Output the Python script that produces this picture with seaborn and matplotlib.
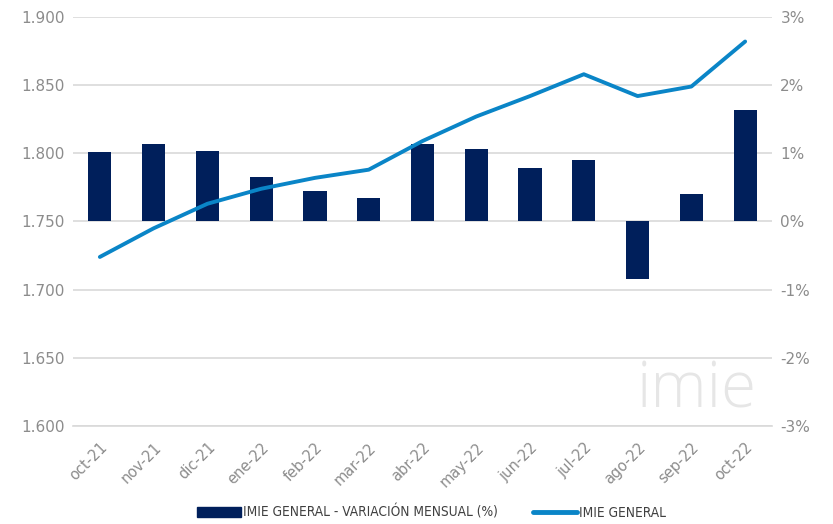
import numpy as np
import matplotlib
matplotlib.use("Agg")
import matplotlib.pyplot as plt
import seaborn as sns
from matplotlib.patches import Patch
from matplotlib.lines import Line2D
from matplotlib.ticker import FixedLocator, FuncFormatter

months = ["oct-21", "nov-21", "dic-21", "ene-22", "feb-22", "mar-22", "abr-22",
          "may-22", "jun-22", "jul-22", "ago-22", "sep-22", "oct-22"]
# variación mensual (%)
variacion = [1.02, 1.14, 1.04, 0.66, 0.44, 0.35, 1.13, 1.06, 0.78, 0.90, -0.85, 0.40, 1.63]
# IMIE general
imie = [1.724, 1.745, 1.763, 1.774, 1.782, 1.788, 1.809, 1.827, 1.842, 1.858, 1.842, 1.849, 1.882]

navy = "#001F5B"
blue = "#0A85C7"
grey_txt = "#8C8C8C"
grid_c = "#D9D9D9"

sns.set_style("white")
plt.rcParams["font.family"] = ["DejaVu Sans"]

fig = plt.figure(figsize=(8.33, 5.24), dpi=100)
ax = fig.add_axes([0.0876, 0.187, 0.8392, 0.7806])

# bars on primary axis (right-hand % scale), line on twin (left-hand scale)
sns.barplot(x=months, y=variacion, color=navy, saturation=1, width=0.43, ax=ax,
            linewidth=0, zorder=2)
ax.set_ylim(-3, 3)
ax.set_xlim(-0.5, 12.5)
ax.set_yticks(np.arange(-3, 4, 1))
ax.yaxis.set_major_formatter(FuncFormatter(lambda v, p: f"{int(v)}%"))
ax.grid(axis="y", color=grid_c, linewidth=1.2, zorder=0)
ax.set_axisbelow(True)

ax2 = ax.twinx()
sns.lineplot(x=np.arange(len(months)), y=imie, color=blue, linewidth=2.8, ax=ax2)
ax2.set_ylim(1.6, 1.9)
ax2.set_yticks(np.arange(1.6, 1.901, 0.05))
ax2.yaxis.set_major_formatter(FuncFormatter(lambda v, p: f"{v:.3f}"))
ax2.set_xlim(-0.5, 12.5)

# swap sides: % on the right, index on the left
ax.yaxis.tick_right()
ax2.yaxis.tick_left()

for a in (ax, ax2):
    for s in a.spines.values():
        s.set_visible(False)
    a.set_xlabel("")
    a.set_ylabel("")
    a.tick_params(axis="y", length=0, labelsize=11, labelcolor=grey_txt, pad=6)

ax.spines["bottom"].set_visible(True)
ax.spines["bottom"].set_color(grid_c)
ax.spines["bottom"].set_linewidth(1.2)

ax.set_xticks(np.arange(len(months)))
ax.set_xticklabels(months, rotation=45, ha="right", rotation_mode="anchor")
ax.xaxis.set_minor_locator(FixedLocator(np.arange(-0.5, 13, 1)))
ax.tick_params(axis="x", which="major", length=0, labelsize=10.5, labelcolor=grey_txt, pad=10)
ax.tick_params(axis="x", which="minor", length=5, color=grid_c, width=1.2)
ax2.tick_params(axis="x", length=0, labelbottom=False)

# watermark
ax.text(0.893, 0.085, "imie", transform=ax.transAxes, fontsize=46, color="#E6E6E6",
        ha="center", va="center", family=["Open Sans", "DejaVu Sans"], fontweight="light",
        zorder=1)

handles = [Patch(facecolor=navy, edgecolor=navy),
           Line2D([0], [0], color=blue, linewidth=3.5)]
labels = ["IMIE GENERAL - VARIACIÓN MENSUAL (%)", "IMIE GENERAL"]
leg = fig.legend(handles, labels, loc="center", bbox_to_anchor=(0.518, 0.022), ncol=2,
                 frameon=False, handlelength=3.2, handleheight=0.8, columnspacing=2.6,
                 handletextpad=0.15,
                 prop={"family": "DejaVu Sans", "stretch": "condensed", "size": 9.8})
for t in leg.get_texts():
    t.set_color("#404040")

plt.savefig("out.png", dpi=100)
